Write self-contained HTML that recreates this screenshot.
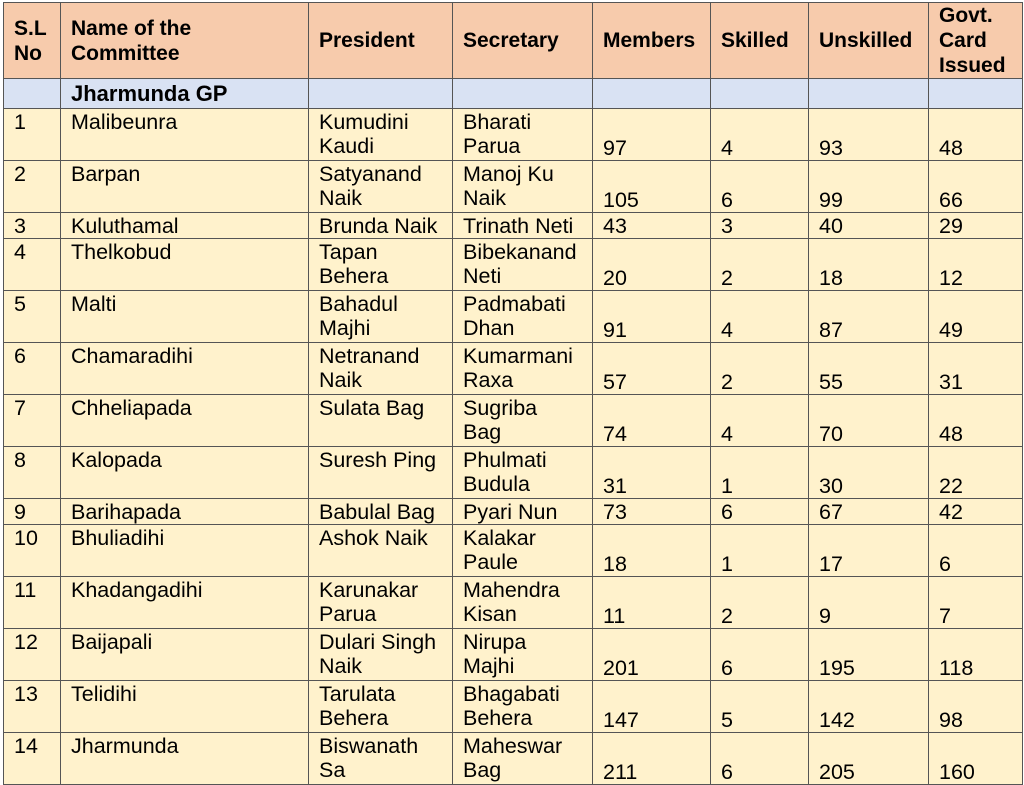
<!DOCTYPE html>
<html><head><meta charset="utf-8"><style>
html,body{margin:0;padding:0;background:#fff;width:1024px;height:785px;overflow:hidden}
table{position:absolute;left:3px;top:2px;border-collapse:collapse;table-layout:fixed;font-family:"Liberation Sans",Arial,sans-serif;font-size:21.5px;color:#000}
td{border:1px solid #555;padding:0 0 0 10px;vertical-align:top;line-height:24px;overflow:hidden;white-space:nowrap}
tr.h td{background:#F7CBAC;font-weight:bold;vertical-align:middle;line-height:25px;font-size:21px}
tr.g td{background:#D9E2F3;font-weight:bold;font-size:22px;vertical-align:middle;line-height:26px}
tr.b td{background:#FFF2CC;padding-top:1px}
tr.b td.n{vertical-align:bottom;padding-top:0;padding-bottom:0}
</style></head><body>
<table>
<colgroup><col style="width:57px"><col style="width:248px"><col style="width:144px"><col style="width:140px"><col style="width:118px"><col style="width:98px"><col style="width:120px"><col style="width:94px"></colgroup>
<tr class="h" style="height:76px"><td>S.L<br>No</td><td>Name of the<br>Committee</td><td>President</td><td>Secretary</td><td>Members</td><td>Skilled</td><td>Unskilled</td><td>Govt.<br>Card<br>Issued</td></tr>
<tr class="g" style="height:30px"><td></td><td>Jharmunda GP</td><td></td><td></td><td></td><td></td><td></td><td></td></tr>
<tr class="b" style="height:52px"><td>1</td><td>Malibeunra</td><td>Kumudini<br>Kaudi</td><td>Bharati<br>Parua</td><td class="n">97</td><td class="n">4</td><td class="n">93</td><td class="n">48</td></tr>
<tr class="b" style="height:52px"><td>2</td><td>Barpan</td><td>Satyanand<br>Naik</td><td>Manoj Ku<br>Naik</td><td class="n">105</td><td class="n">6</td><td class="n">99</td><td class="n">66</td></tr>
<tr class="b" style="height:26px"><td>3</td><td>Kuluthamal</td><td>Brunda Naik</td><td>Trinath Neti</td><td class="n">43</td><td class="n">3</td><td class="n">40</td><td class="n">29</td></tr>
<tr class="b" style="height:52px"><td>4</td><td>Thelkobud</td><td>Tapan<br>Behera</td><td>Bibekanand<br>Neti</td><td class="n">20</td><td class="n">2</td><td class="n">18</td><td class="n">12</td></tr>
<tr class="b" style="height:52px"><td>5</td><td>Malti</td><td>Bahadul<br>Majhi</td><td>Padmabati<br>Dhan</td><td class="n">91</td><td class="n">4</td><td class="n">87</td><td class="n">49</td></tr>
<tr class="b" style="height:52px"><td>6</td><td>Chamaradihi</td><td>Netranand<br>Naik</td><td>Kumarmani<br>Raxa</td><td class="n">57</td><td class="n">2</td><td class="n">55</td><td class="n">31</td></tr>
<tr class="b" style="height:52px"><td>7</td><td>Chheliapada</td><td>Sulata Bag</td><td>Sugriba<br>Bag</td><td class="n">74</td><td class="n">4</td><td class="n">70</td><td class="n">48</td></tr>
<tr class="b" style="height:52px"><td>8</td><td>Kalopada</td><td>Suresh Ping</td><td>Phulmati<br>Budula</td><td class="n">31</td><td class="n">1</td><td class="n">30</td><td class="n">22</td></tr>
<tr class="b" style="height:26px"><td>9</td><td>Barihapada</td><td>Babulal Bag</td><td>Pyari Nun</td><td class="n">73</td><td class="n">6</td><td class="n">67</td><td class="n">42</td></tr>
<tr class="b" style="height:52px"><td>10</td><td>Bhuliadihi</td><td>Ashok Naik</td><td>Kalakar<br>Paule</td><td class="n">18</td><td class="n">1</td><td class="n">17</td><td class="n">6</td></tr>
<tr class="b" style="height:52px"><td>11</td><td>Khadangadihi</td><td>Karunakar<br>Parua</td><td>Mahendra<br>Kisan</td><td class="n">11</td><td class="n">2</td><td class="n">9</td><td class="n">7</td></tr>
<tr class="b" style="height:52px"><td>12</td><td>Baijapali</td><td>Dulari Singh<br>Naik</td><td>Nirupa<br>Majhi</td><td class="n">201</td><td class="n">6</td><td class="n">195</td><td class="n">118</td></tr>
<tr class="b" style="height:52px"><td>13</td><td>Telidihi</td><td>Tarulata<br>Behera</td><td>Bhagabati<br>Behera</td><td class="n">147</td><td class="n">5</td><td class="n">142</td><td class="n">98</td></tr>
<tr class="b" style="height:52px"><td>14</td><td>Jharmunda</td><td>Biswanath<br>Sa</td><td>Maheswar<br>Bag</td><td class="n">211</td><td class="n">6</td><td class="n">205</td><td class="n">160</td></tr>
</table>
</body></html>
